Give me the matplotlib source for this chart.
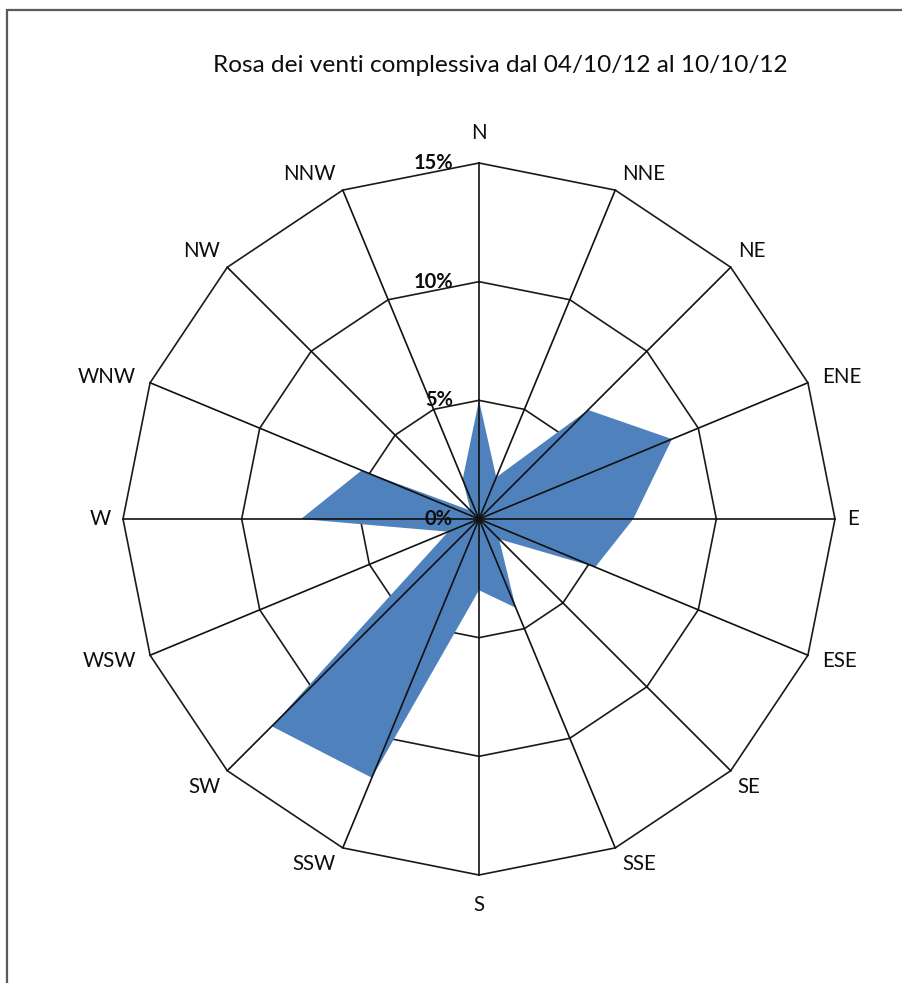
import numpy as np
import matplotlib.pyplot as plt
from matplotlib.patches import Rectangle

# Wind rose data: frequency (%) per direction, clockwise from N
directions = ['N', 'NNE', 'NE', 'ENE', 'E', 'ESE', 'SE', 'SSE',
              'S', 'SSW', 'SW', 'WSW', 'W', 'WNW', 'NW', 'NNW']
frequencies = [5.0, 1.9, 6.5, 8.8, 6.5, 5.3, 1.2, 4.05,
               3.0, 11.8, 12.35, 1.4, 7.5, 5.35, 0.5, 1.8]
ring_levels = [5, 10, 15]
ring_labels = ['0%', '5%', '10%', '15%']
title = 'Rosa dei venti complessiva dal 04/10/12 al 10/10/12'

plt.rcParams['font.family'] = ['Lato', 'DejaVu Sans']

W, H = 903, 983
fig = plt.figure(figsize=(W / 100, H / 100), dpi=100)

# polar axes placed so the 15% ring sits at the chart centre
cx, cy, rad = 479, 519, 356
ax = fig.add_axes([(cx - rad) / W, (H - cy - rad) / H, 2 * rad / W, 2 * rad / H],
                  projection='polar')
ax.set_theta_zero_location('N')
ax.set_theta_direction(-1)
ax.set_ylim(0, 15)
ax.grid(False)
ax.spines['polar'].set_visible(False)
ax.set_xticks([])
ax.set_yticks([])
ax.patch.set_alpha(0)

angles = np.deg2rad(np.arange(len(directions)) * 22.5)
closed = np.append(angles, angles[0])

# polygon rings (under the fill)
for r in ring_levels:
    ax.plot(closed, [r] * len(closed), color='#1a1a1a', lw=1.2, zorder=1, clip_on=False)

# filled series
vals = np.append(frequencies, frequencies[0])
ax.fill(closed, vals, color='#4F81BD', lw=0, zorder=2)

# spokes drawn over the fill
for a in angles:
    ax.plot([a, a], [0, 15], color='#111111', lw=1.2, zorder=3, clip_on=False)

# radial value labels just left of the N spoke
for lvl, txt in zip([0] + ring_levels, ring_labels):
    ax.annotate(txt, xy=(0, lvl), xytext=(-26, 0), textcoords='offset pixels',
                ha='right', va='center', fontsize=14.5, fontweight='bold',
                color='#0d0d0d', zorder=5, annotation_clip=False)

# direction labels around the outer ring
for a, name in zip(angles, directions):
    s, c = np.sin(a), np.cos(a)
    if abs(c) > 0.95:
        ha, va = 'center', 'center'
        off = (0, 30 * np.sign(c))
    elif abs(c) > 0.6:
        ha = 'left' if s > 0 else 'right'
        va = 'bottom' if c > 0 else 'top'
        off = (7 * np.sign(s), 6 * np.sign(c))
    elif abs(c) > 0.2:
        ha = 'left' if s > 0 else 'right'
        va = 'center'
        off = (14 * np.sign(s), 6 * np.sign(c))
    else:
        ha = 'left' if s > 0 else 'right'
        va = 'center'
        off = (12 * np.sign(s), 0)
    ax.annotate(name, xy=(a, 15), xytext=off, textcoords='offset pixels',
                ha=ha, va=va, fontsize=14.8, color='#0d0d0d',
                annotation_clip=False)

fig.text(500 / W, 1 - 65 / H, title, ha='center', va='center',
         fontsize=17.6, color='#0d0d0d')

# chart area border
fig.add_artist(Rectangle((7 / W, -0.02), 1.0, 1 - 10 / H + 0.02,
                         transform=fig.transFigure, fill=False,
                         edgecolor='#5a5a5a', lw=1.6))

fig.savefig('out.png', dpi=100, facecolor='white')
